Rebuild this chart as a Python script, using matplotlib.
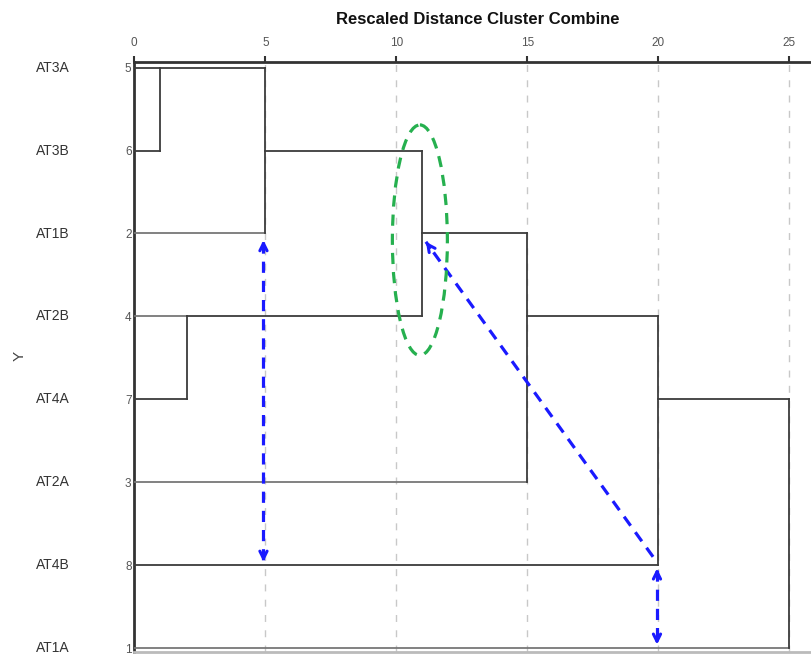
import numpy as np
import matplotlib
matplotlib.use("Agg")
import matplotlib.pyplot as plt
from matplotlib.patches import Ellipse
from matplotlib.transforms import blended_transform_factory

plt.rcParams['font.family'] = ['Liberation Sans', 'DejaVu Sans']

# ---- data ----
case_labels = ['AT3A', 'AT3B', 'AT1B', 'AT2B', 'AT4A', 'AT2A', 'AT4B', 'AT1A']
case_numbers = [5, 6, 2, 4, 7, 3, 8, 1]
# merges: leaves are 0..7 (display order), new clusters numbered 8..14
merge_a = [0, 8, 3, 9, 11, 12, 13]
merge_b = [1, 2, 4, 10, 5, 6, 7]
merge_dist = [1, 5, 2, 11, 15, 20, 25]
x_ticks = [0, 5, 10, 15, 20, 25]

W, H = 812, 654
fig = plt.figure(figsize=(W / 100, H / 100), dpi=100)
left_px, top_px, bot_px = 134.3, 61.7, 652.0
ax = fig.add_axes([left_px / W, 1 - bot_px / H, 1 - left_px / W, (bot_px - top_px) / H])

px_per_unit = 26.2
row0, row_sp = 67.7, 82.9
ax.set_xlim(0, (W - left_px) / px_per_unit)
ax.set_ylim((bot_px - row0) / row_sp, (top_px - row0) / row_sp)

# grid lines
for t in x_ticks[1:]:
    ax.axvline(t, color='#c8c8c8', lw=1.0, ls=(0, (5, 6)), zorder=1)

# dendrogram
line_kw = dict(color='#3c3c3c', lw=1.3, zorder=3)
light_leaves = {2, 3, 5, 7}
pos = {i: i for i in range(len(case_labels))}
xpos = {i: 0 for i in range(len(case_labels))}
for k, (a, b, d) in enumerate(zip(merge_a, merge_b, merge_dist)):
    pa, pb = pos[a], pos[b]
    ca = '#777777' if a in light_leaves else '#3c3c3c'
    cb = '#777777' if b in light_leaves else '#3c3c3c'
    ax.plot([xpos[a], d], [pa, pa], color=ca, lw=1.3, zorder=3)
    ax.plot([xpos[b], d], [pb, pb], color=cb, lw=1.3, zorder=3)
    ax.plot([d, d], [pa, pb], **line_kw)
    node = len(case_labels) + k
    pos[node] = int(np.floor((pa + pb) / 2))
    xpos[node] = d

# axes styling
ax.xaxis.tick_top()
ax.set_xticks(x_ticks)
ax.set_xticklabels([str(t) for t in x_ticks])
ax.tick_params(axis='x', direction='out', length=4, width=1.5, color='#333333',
               labelsize=8.5, labelcolor='#555555', pad=5)
ax.set_yticks(range(len(case_numbers)))
ax.set_yticklabels([str(n) for n in case_numbers])
ax.tick_params(axis='y', length=0, labelsize=8.5, labelcolor='#555555', pad=2)
for s in ['left', 'top']:
    ax.spines[s].set_linewidth(2.0)
    ax.spines[s].set_color('#333333')
ax.spines['right'].set_visible(False)
ax.spines['bottom'].set_linewidth(2.0)
ax.spines['bottom'].set_color('#bbbbbb')

# case labels
tr = blended_transform_factory(fig.transFigure, ax.transData)
for i, lab in enumerate(case_labels):
    ax.text(36 / W, i, lab, transform=tr, ha='left', va='center',
            fontsize=10, color='#333333', clip_on=False)

fig.text(20 / W, 1 - 356 / H, 'Y', rotation=90, ha='center', va='center',
         fontsize=11, color='#444444')
fig.text(478 / W, 1 - 20 / H, 'Rescaled Distance Cluster Combine', ha='center',
         va='center', fontsize=12, fontweight='bold', color='#111111')

# annotations
blue = '#1a1aff'
green = '#26b04f'
dash_kw = dict(color=blue, lw=2.3, ls=(0, (3.5, 2.5)), zorder=5, solid_capstyle='butt')


def to_px(p):
    return np.array([p[0] * px_per_unit, p[1] * row_sp])


def head(tip, toward, back_px=7):
    """Arrow head at tip, pointing away from 'toward'."""
    v = to_px(toward) - to_px(tip)
    v = v / np.hypot(*v) * back_px
    back = (tip[0] + v[0] / px_per_unit, tip[1] + v[1] / row_sp)
    ax.annotate('', xy=tip, xytext=back,
                arrowprops=dict(arrowstyle='->', color=blue, lw=2.2,
                                mutation_scale=13, shrinkA=0, shrinkB=0),
                zorder=6)


r_at1b = case_labels.index('AT1B')
r_at4b = case_labels.index('AT4B')
r_at1a = case_labels.index('AT1A')

# vertical double arrow at distance 5
x1 = merge_dist[1] - 0.07
a1 = (x1, r_at1b + 0.08)
b1 = (x1, r_at4b - 0.04)
ax.plot([a1[0], b1[0]], [a1[1] + 0.02, b1[1] - 0.02], **dash_kw)
head(a1, b1)
head(b1, a1)

# diagonal arrow from (20, AT4B) to (11, AT1B)
p0 = (merge_dist[5] - 0.2, r_at4b - 0.1)
p1 = (merge_dist[3] + 0.13, r_at1b + 0.1)
ax.plot([p0[0], p1[0]], [p0[1], p1[1]], **dash_kw)
head(p1, p0)

# small vertical double arrow at distance 20
x2 = merge_dist[5] - 0.05
a2 = (x2, r_at4b + 0.04)
b2 = (x2, r_at1a - 0.04)
ax.plot([a2[0], b2[0]], [a2[1] + 0.02, b2[1] - 0.02], **dash_kw)
head(a2, b2)
head(b2, a2)

# green ellipse around the distance-11 link
ell = Ellipse((10.9, r_at1b + 0.08), width=2.1, height=2.78, fill=False,
              edgecolor=green, lw=2.3, ls=(0, (3.5, 2.5)), zorder=5)
ax.add_patch(ell)

fig.savefig('out.png', dpi=100)
